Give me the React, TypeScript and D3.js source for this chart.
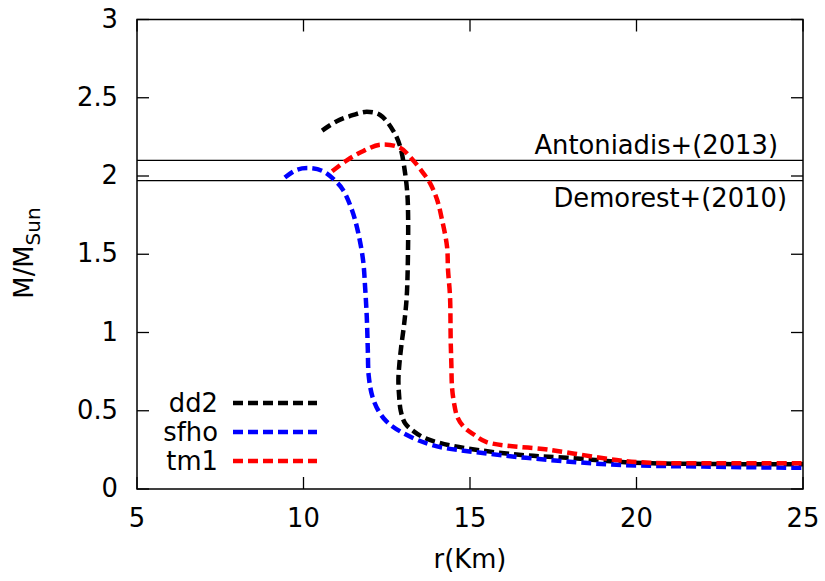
import React from "react";
import * as d3 from "d3";

const dd2R = [10.56, 11.0, 11.5, 11.9, 12.3, 12.69, 12.9, 13.05, 13.12, 13.14, 13.14, 13.1, 13.02, 12.94, 12.88, 12.85, 12.87, 12.92, 13.05, 13.3, 13.6, 14.08, 14.9, 16.4, 17.9, 19.9, 22.0, 25.0];
const dd2M = [2.29, 2.35, 2.39, 2.41, 2.39, 2.29, 2.19, 2.02, 1.88, 1.76, 1.55, 1.23, 1.05, 0.92, 0.8, 0.7, 0.6, 0.5, 0.42, 0.37, 0.33, 0.295, 0.26, 0.22, 0.20, 0.168, 0.16, 0.158];

const sfhoR = [9.44, 9.8, 10.2, 10.59, 10.95, 11.19, 11.46, 11.64, 11.79, 11.85, 11.9, 11.93, 11.96, 12.07, 12.25, 12.5, 12.97, 13.87, 15.38, 17.4, 19.4, 22.0, 25.0];
const sfhoM = [1.99, 2.04, 2.05, 2.03, 1.97, 1.91, 1.78, 1.64, 1.46, 1.29, 1.1, 0.9, 0.72, 0.59, 0.5, 0.43, 0.36, 0.28, 0.23, 0.185, 0.155, 0.143, 0.135];

const tm1R = [10.86, 11.3, 11.8, 12.3, 12.9, 13.29, 13.59, 13.8, 14.01, 14.16, 14.31, 14.34, 14.4, 14.42, 14.44, 14.46, 14.52, 14.62, 14.8, 15.1, 15.5, 17.4, 19.4, 20.4, 22.5, 25.0];
const tm1M = [2.03, 2.1, 2.16, 2.2, 2.18, 2.1, 2.02, 1.955, 1.85, 1.72, 1.55, 1.4, 1.23, 0.95, 0.8, 0.65, 0.55, 0.46, 0.4, 0.35, 0.3, 0.25, 0.185, 0.168, 0.165, 0.165];

const xTicks = [5, 10, 15, 20, 25];
const yTicks = [0, 0.5, 1, 1.5, 2, 2.5, 3];
const yTickLabels = ["0", "0.5", "1", "1.5", "2", "2.5", "3"];

const refNames = ["Antoniadis+(2013)", "Demorest+(2010)"];
const refValues = [2.1, 1.97];

const seriesNames = ["dd2", "sfho", "tm1"];
const seriesColors = ["#000000", "#0000ff", "#ff0000"];

export default function App() {
  const W = 825, H = 581;
  const left = 137, right = 803, top = 19.5, bottom = 489;
  const x = d3.scaleLinear().domain([5, 25]).range([left, right]);
  const y = d3.scaleLinear().domain([0, 3]).range([bottom, top]);
  const line = d3
    .line<[number, number]>()
    .x((d) => x(d[0]))
    .y((d) => y(d[1]))
    .curve(d3.curveCatmullRom.alpha(0.5));
  const series = [
    dd2R.map((r, i) => [r, dd2M[i]] as [number, number]),
    sfhoR.map((r, i) => [r, sfhoM[i]] as [number, number]),
    tm1R.map((r, i) => [r, tm1M[i]] as [number, number]),
  ];
  const font = "DejaVu Sans, sans-serif";
  const fs = 25.8;
  const tickLen = 12;
  const refTextX = [778, 787];
  const refTextY = [154, 207];
  return (
    <svg width={W} height={H} style={{ display: "block", position: "absolute", left: 0, top: 0 }} fontFamily={font}>
      <rect width={W} height={H} fill="#fff" />
      <defs>
        <clipPath id="plot">
          <rect x={left} y={top} width={right - left} height={bottom - top} />
        </clipPath>
      </defs>
      {refValues.map((v, i) => (
        <g key={i}>
          <line x1={left} x2={right} y1={y(v)} y2={y(v)} stroke="#000" strokeWidth={1.3} />
          <text x={refTextX[i]} y={refTextY[i]} textAnchor="end" fontSize={fs}>
            {refNames[i]}
          </text>
        </g>
      ))}
      <g clipPath="url(#plot)">
        {series.map((s, i) => (
          <path
            key={i}
            d={line(s) || ""}
            fill="none"
            stroke={seriesColors[i]}
            strokeWidth={4.5}
            strokeDasharray="10,5"
          />
        ))}
      </g>
      <rect x={left} y={top} width={right - left} height={bottom - top} fill="none" stroke="#000" strokeWidth={1.5} />
      {xTicks.map((t) => (
        <g key={"x" + t}>
          <line x1={x(t)} x2={x(t)} y1={bottom} y2={bottom - tickLen} stroke="#000" strokeWidth={1.3} />
          <line x1={x(t)} x2={x(t)} y1={top} y2={top + tickLen} stroke="#000" strokeWidth={1.3} />
          <text x={x(t)} y={527} textAnchor="middle" fontSize={fs}>
            {t}
          </text>
        </g>
      ))}
      {yTicks.map((t, i) => (
        <g key={"y" + t}>
          <line x1={left} x2={left + tickLen} y1={y(t)} y2={y(t)} stroke="#000" strokeWidth={1.3} />
          <line x1={right} x2={right - tickLen} y1={y(t)} y2={y(t)} stroke="#000" strokeWidth={1.3} />
          <text x={118} y={y(t) + 8} textAnchor="end" fontSize={fs}>
            {yTickLabels[i]}
          </text>
        </g>
      ))}
      <text x={470} y={568} textAnchor="middle" fontSize={fs}>
        r(Km)
      </text>
      <text transform={`translate(33,253) rotate(-90)`} textAnchor="middle" fontSize={fs}>
        M/M<tspan dy={7} fontSize={20}>Sun</tspan>
      </text>
      {seriesNames.map((n, i) => (
        <g key={n}>
          <text x={218} y={412 + i * 29} textAnchor="end" fontSize={fs}>
            {n}
          </text>
          <line
            x1={233}
            x2={317}
            y1={403 + i * 29}
            y2={403 + i * 29}
            stroke={seriesColors[i]}
            strokeWidth={4.5}
            strokeDasharray="10,5"
          />
        </g>
      ))}
    </svg>
  );
}
